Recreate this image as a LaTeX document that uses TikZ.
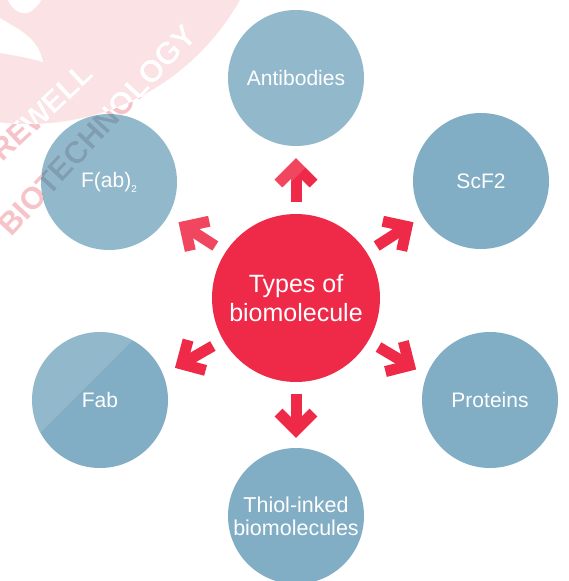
\documentclass[tikz,border=0pt]{standalone}
\usepackage{fontspec}
\setmainfont{Liberation Sans}
\usetikzlibrary{calc}
\definecolor{bluec}{HTML}{81AEC4}
\definecolor{redc}{HTML}{EE2A48}
\definecolor{pinkbg}{HTML}{FBE3E5}
\definecolor{pinktx}{HTML}{F6C3C9}
\definecolor{textonblue}{HTML}{7C9FB3}
\newcommand\myarrow[3]{%
  \coordinate (b-#2) at ($(#1)!96pt!#3:(#2)$);
  \coordinate (t-#2) at ($(#1)!132pt!#3:(#2)$);
  \draw[arrowline] (b-#2) -- (t-#2);
  \draw[arrowline, line join=miter] ($(t-#2)!24.75pt!45:(b-#2)$) -- (t-#2) -- ($(t-#2)!24.75pt!-45:(b-#2)$);
}
\newcommand\wmtext[1]{%
  \node[wm, text=#1, rotate=43] (wmA) at (42,-112) {REWELL};
  \node[wm, text=#1, rotate=47, font=\fontsize{31}{31}\selectfont\bfseries] (wmB) at (97,-130) {BIOTECHNOLOGY};
}
\begin{document}
\begin{tikzpicture}[x=1pt,y=1pt,
  bub/.style={circle, fill=bluec, minimum size=136pt, inner sep=0pt, text=white, align=center, font=\fontsize{21}{23}\selectfont},
  hub/.style={circle, fill=redc, minimum size=168pt, inner sep=0pt, text=white, align=center, font=\fontsize{25}{29}\selectfont},
  arrowline/.style={draw=redc, line width=11pt},
  wm/.style={font=\fontsize{30}{30}\selectfont\bfseries, inner sep=0pt}
]
\useasboundingbox (0,0) rectangle (569,-581);
\clip (0,0) rectangle (569,-581);
\fill[white] (0,0) rectangle (569,-581);
% nodes
\node[hub] (hub) at (296,-298) {Types of\\biomolecule};
\node[bub] (ab) at (296,-78) {Antibodies};
\node[bub] (fab2) at (109,-182) {};
\node[bub] (scf) at (481,-181) {ScF2};
\node[bub] (fab) at (100,-400) {Fab};
\node[bub] (prot) at (490,-400) {Proteins};
\node[bub, font=\fontsize{21.5}{23}\selectfont] (thiol) at (296,-516) {Thiol-inked\\biomolecules};
% arrows
\myarrow{hub}{ab}{0}
\myarrow{hub}{fab2}{-1}
\myarrow{hub}{scf}{0.5}
\myarrow{hub}{fab}{2.5}
\myarrow{hub}{prot}{-3}
\myarrow{hub}{thiol}{0}
% light overlay
\fill[white, opacity=0.135] (0,0) -- (473,0) -- (0,-473) -- cycle;
% watermark
\fill[pinkbg] (28,119) circle (243);
\fill[white] (8,0) .. controls (12,-10) and (22,-16) .. (30,-12) .. controls (36,-8) and (40,-3) .. (41,0) -- cycle;
\fill[white] (0,-18) .. controls (15,-28) and (38,-36) .. (43,-62) .. controls (30,-58) and (12,-55) .. (0,-53) -- cycle;
\wmtext{pinktx}
\begin{scope}
  \clip (28,119) circle (243);
  \wmtext{white}
\end{scope}
\begin{scope}
  \clip (fab2.center) circle (68);
  \wmtext{textonblue}
\end{scope}
\node[text=white, font=\fontsize{21}{23}\selectfont, inner sep=0pt] (fab2lbl) at (fab2.center) {F(ab)\raisebox{-5pt}{\fontsize{10}{10}\selectfont 2}};
\end{tikzpicture}
\end{document}
